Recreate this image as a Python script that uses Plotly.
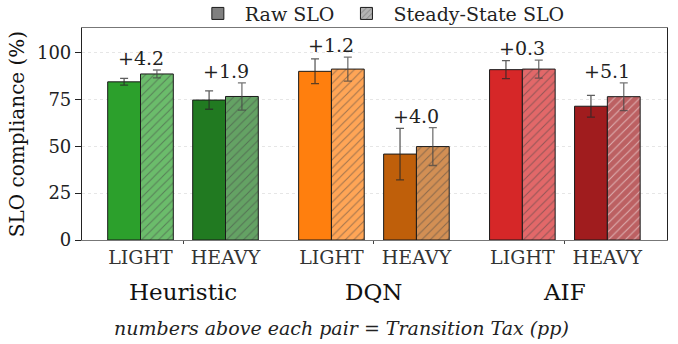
import plotly.graph_objects as go

# ---- data ----
methods = ["Heuristic", "DQN", "AIF"]
loads = ["LIGHT", "HEAVY"]
raw_slo = [84.3, 74.6, 89.9, 45.8, 90.8, 71.3]
raw_err = [1.8, 4.9, 6.6, 13.7, 4.8, 5.8]
steady_slo = [88.5, 76.5, 91.1, 49.8, 91.1, 76.4]
steady_err = [2.1, 7.3, 6.4, 10.1, 4.8, 7.4]
y_ticks = [0, 25, 50, 75, 100]

# ---- style ----
base_colors = ["#2ca02c", "#217a21", "#ff7f0e", "#bf5f0a", "#d62728", "#a01c1e"]
FONT = "'DejaVu Serif', serif"
pair_off = 0.2226
bar_w = 0.1718


def lighten(hexc, a=0.7):
    h = hexc.lstrip("#")
    r, g, b = (int(h[i:i + 2], 16) for i in (0, 2, 4))
    mix = lambda c: int(round(c * a + 255 * (1 - a)))
    return "#%02x%02x%02x" % (mix(r), mix(g), mix(b))


steady_colors = [lighten(c) for c in base_colors]

centers = []
tick_text = []
for gi, m in enumerate(methods):
    for li, l in enumerate(loads):
        centers.append(gi + (-pair_off if li == 0 else pair_off))
        tick_text.append(l)

raw_x = [c - bar_w / 2 for c in centers]
st_x = [c + bar_w / 2 for c in centers]

fig = go.Figure()
fig.add_trace(go.Bar(
    x=raw_x, y=raw_slo, width=bar_w, showlegend=False,
    marker=dict(color=base_colors, line=dict(color="#1a1a1a", width=1)),
    error_y=dict(type="data", array=raw_err, color="rgba(40,40,40,0.75)",
                 thickness=1.3, width=4),
))
fig.add_trace(go.Bar(
    x=st_x, y=steady_slo, width=bar_w, showlegend=False,
    marker=dict(color=steady_colors, line=dict(color="#1a1a1a", width=1),
                pattern=dict(shape="/", fgcolor="#222222", size=6, solidity=0.18)),
    error_y=dict(type="data", array=steady_err, color="rgba(70,70,70,0.75)",
                 thickness=1.3, width=4),
))
# legend entries
fig.add_trace(go.Bar(x=[None], y=[None], name="Raw SLO",
                     marker=dict(color="#808080", line=dict(color="#1a1a1a", width=1))))
fig.add_trace(go.Bar(x=[None], y=[None], name="Steady-State SLO",
                     marker=dict(color="#b3b3b3", line=dict(color="#1a1a1a", width=1),
                                 pattern=dict(shape="/", fgcolor="#333", size=5, solidity=0.2))))

annotations = []
for i, c in enumerate(centers):
    tax = steady_slo[i] - raw_slo[i]
    top = max(raw_slo[i] + raw_err[i], steady_slo[i] + steady_err[i])
    annotations.append(dict(x=c, y=top, xref="x", yref="y", text="+%.1f" % tax,
                            showarrow=False, yanchor="middle", yshift=12,
                            font=dict(family=FONT, size=19, color="#222")))
for gi, m in enumerate(methods):
    annotations.append(dict(x=gi, y=-0.245, xref="x", yref="paper", text=m,
                            showarrow=False, yanchor="middle",
                            font=dict(family=FONT, size=23, color="#111")))
annotations.append(dict(x=0.444, xref="paper", y=-0.415, yref="paper",
                        text="<i>numbers above each pair = Transition Tax (pp)</i>",
                        showarrow=False, yanchor="middle", xanchor="center",
                        font=dict(family=FONT, size=19, color="#222")))

fig.update_layout(
    width=678, height=344,
    margin=dict(l=82, r=11, t=28, b=104, autoexpand=False),
    plot_bgcolor="white", paper_bgcolor="white",
    barmode="overlay",
    font=dict(family=FONT, color="#222"),
    annotations=annotations,
    legend=dict(orientation="h", x=0.51, xanchor="center", y=1.068, yanchor="middle",
                font=dict(family=FONT, size=19, color="#222"), itemwidth=44,
                tracegroupgap=0, bgcolor="rgba(0,0,0,0)"),
    xaxis=dict(range=[-0.529, 2.535], tickmode="array", tickvals=centers,
               ticktext=tick_text, ticks="", showgrid=False, zeroline=False,
               showline=True, linecolor="#777", linewidth=1.2, mirror=True,
               tickfont=dict(family=FONT, size=19, color="#333"),
               minor=dict(tickmode="array", tickvals=[0, 1, 2], ticks="outside",
                          ticklen=3, tickcolor="#444")),
    yaxis=dict(range=[0, 113], tickmode="array", tickvals=y_ticks,
               ticks="outside", ticklen=6, tickcolor="#222",
               showline=True, linecolor="#222", linewidth=1.2, mirror=True,
               showgrid=True, gridcolor="#e6e6e6", griddash="dot", zeroline=False,
               tickfont=dict(family=FONT, size=18, color="#222"),
               title=dict(text="SLO compliance (%)", standoff=6,
                          font=dict(family=FONT, size=20, color="#111"))),
)

fig.write_html("out.html", post_script="document.body.style.margin='0';",
               config={"displayModeBar": False})
